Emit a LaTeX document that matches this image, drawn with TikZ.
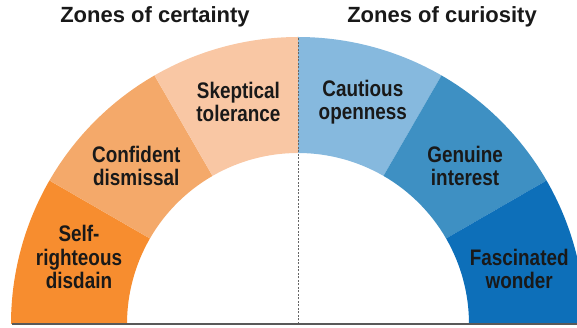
\documentclass[tikz,border=0pt]{standalone}
\usepackage{fontspec}
\setmainfont{Liberation Sans}
\newfontfamily\zonefont{Liberation Sans}[FakeStretch=0.84]
\usepackage{tikz}
\usetikzlibrary{positioning}
\definecolor{disdainOr}{HTML}{F78D2F}
\definecolor{dismissOr}{HTML}{F4A96A}
\definecolor{tolerOr}{HTML}{F9C7A4}
\definecolor{openBl}{HTML}{86B9DE}
\definecolor{interBl}{HTML}{3E90C3}
\definecolor{wonderBl}{HTML}{0D6FB9}
\tikzset{
	zone/.style={font=\zonefont\bfseries\fontsize{22.5}{23.5}\selectfont, align=center, text=black!90, inner sep=0pt},
	heading/.style={font=\bfseries\fontsize{22}{24}\selectfont, text=black!90, inner sep=0pt},
	divider/.style={draw=gray!80!black, dash pattern=on 2pt off 1.5pt, line width=0.8pt},
	baseline/.style={draw=black!65, line width=1.2pt},
}
\newcommand{\Rout}{287}
\newcommand{\Rin}{171}
\newcommand{\sector}[3]{\fill[#1] (#2:\Rin) -- (#2:\Rout) arc[start angle=#2, end angle=#3, radius=\Rout] -- (#3:\Rin) arc[start angle=#3, end angle=#2, radius=\Rin] -- cycle;}

\begin{document}
\begin{tikzpicture}[x=1pt, y=1pt]
		\useasboundingbox (-298,-4) rectangle (279,324);
			% certainty side
			\sector{disdainOr}{180}{150}
			\sector{dismissOr}{150}{120}
			\sector{tolerOr}{120}{90}
			% curiosity side
			\sector{openBl}{90}{60}
			\sector{interBl}{60}{30}
			\sector{wonderBl}{30}{0}
			\node[zone] (D) 	at (163:229)		{Self-\\righteous\\disdain};
			\node[zone] (Ds) 	at (135.7:226)	{Confident\\dismissal};
			\node[zone] (T) 	at (105:230)		{Skeptical\\tolerance};
			\node[zone] (O) 	at (73.7:231)		{Cautious\\openness};
			\node[zone] (I) 	at (43.4:230)		{Genuine\\interest};
			\node[zone] (W) 	at (14:228)			{Fascinated\\wonder};
			\node[heading] (HC) at (-143,307) 	{Zones of certainty};
			\node[heading] (HQ) at (144,307) 		{Zones of curiosity};
			\coordinate (base) 	at (0,0);
			\coordinate (apex) 	at (90:\Rout);
			\coordinate (lft) 	at (-286,0);
			\coordinate (rgt) 	at (279,0);
			\draw[divider]		(base)	-- (apex);
			\draw[baseline]		(lft)		-- (rgt);
		\end{tikzpicture}
\end{document}
